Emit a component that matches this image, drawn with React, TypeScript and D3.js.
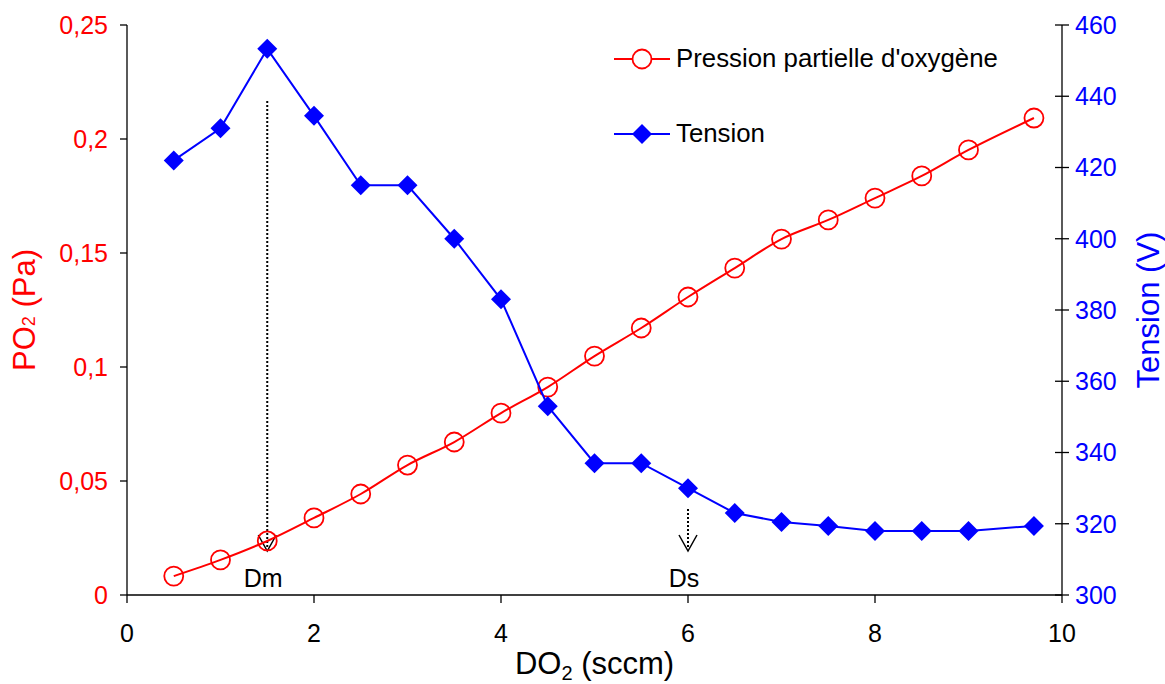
import React from "react";
import * as d3 from "d3";

const flows = [0.5, 1, 1.5, 2, 2.5, 3, 3.5, 4, 4.5, 5, 5.5, 6, 6.5, 7, 7.5, 8, 8.5, 9, 9.7];
const pressure = [0.0083, 0.0154, 0.0237, 0.0338, 0.0443, 0.057, 0.0671, 0.0798, 0.0912, 0.1048, 0.1171, 0.1307, 0.1434, 0.1561, 0.1645, 0.1741, 0.1838, 0.1952, 0.2092];
const tension = [422, 431, 453.3, 434.5, 415, 415, 400, 383, 353, 337, 337, 330, 323, 320.5, 319.4, 318, 318, 318, 319.4];
const xTicks = [0, 2, 4, 6, 8, 10];
const leftTicks = [0, 0.05, 0.1, 0.15, 0.2, 0.25];
const leftTickLabels = ["0", "0,05", "0,1", "0,15", "0,2", "0,25"];
const rightTicks = [300, 320, 340, 360, 380, 400, 420, 440, 460];
const markers = [
  { label: "Dm", x: 1.5, top: 101 },
  { label: "Ds", x: 6, top: 509 },
];
const legendItems = ["Pression partielle d'oxygène", "Tension"];

const W = 1165;
const H = 684;
const L = 127;
const R = 1062;
const T = 25;
const B = 595;
const FONT = "'Liberation Sans', Arial, sans-serif";
const FS = 25;
const TFS = 31;
const RED = "#ff0000";
const BLUE = "#0000ff";

export default function App() {
  const x = d3.scaleLinear().domain([0, 10]).range([L, R]);
  const yL = d3.scaleLinear().domain([0, 0.25]).range([B, T]);
  const yR = d3.scaleLinear().domain([300, 460]).range([B, T]);

  const redLine = d3
    .line<number>()
    .x((_, i) => x(flows[i]))
    .y((d) => yL(d))
    .curve(d3.curveCatmullRom.alpha(0.5))(pressure) as string;
  const blueLine = d3
    .line<number>()
    .x((_, i) => x(flows[i]))
    .y((d) => yR(d))(tension) as string;

  const diamond = (cx: number, cy: number, r = 10) =>
    `M${cx},${cy - r}L${cx + r},${cy}L${cx},${cy + r}L${cx - r},${cy}Z`;

  const arrowTip = 551;
  const midY = (T + B) / 2;

  return (
    <svg
      width={W}
      height={H}
      style={{ position: "absolute", left: 0, top: 0, background: "#fff" }}
      fontFamily={FONT}
    >
      {/* axes */}
      <line x1={L} y1={T} x2={L} y2={B} stroke="#000" strokeWidth={1.3} />
      <line x1={R} y1={T} x2={R} y2={B} stroke="#000" strokeWidth={1.3} />
      <line x1={L} y1={B} x2={R} y2={B} stroke="#000" strokeWidth={1.3} />
      {leftTicks.map((t, i) => (
        <g key={"l" + i}>
          <line x1={L - 7} x2={L} y1={yL(t)} y2={yL(t)} stroke="#000" strokeWidth={1.3} />
          <text x={L - 19} y={yL(t)} dy="0.35em" textAnchor="end" fill={RED} fontSize={FS}>
            {leftTickLabels[i]}
          </text>
        </g>
      ))}
      {rightTicks.map((t) => (
        <g key={"r" + t}>
          <line x1={R - 7} x2={R + 7} y1={yR(t)} y2={yR(t)} stroke="#000" strokeWidth={1.3} />
          <text x={R + 13} y={yR(t)} dy="0.35em" textAnchor="start" fill={BLUE} fontSize={FS}>
            {t}
          </text>
        </g>
      ))}
      {xTicks.map((t) => (
        <g key={"x" + t}>
          <line x1={x(t)} x2={x(t)} y1={B} y2={B + 8} stroke="#000" strokeWidth={1.3} />
          <text x={x(t)} y={B + 38} dy="0.35em" textAnchor="middle" fill="#000" fontSize={FS}>
            {t}
          </text>
        </g>
      ))}
      {/* axis titles */}
      <text
        transform={`translate(35,${midY}) rotate(-90)`}
        textAnchor="middle"
        fill={RED}
        fontSize={TFS}
      >
        PO<tspan fontSize={18}>2</tspan>
        <tspan> (Pa)</tspan>
      </text>
      <text
        transform={`translate(1159,${midY}) rotate(-90)`}
        textAnchor="middle"
        fill={BLUE}
        fontSize={TFS}
      >
        Tension (V)
      </text>
      <text x={(L + R) / 2} y={674} textAnchor="middle" fill="#000" fontSize={TFS}>
        DO<tspan fontSize={20} dy={6}>2</tspan>
        <tspan dy={-6}> (sccm)</tspan>
      </text>

      {/* arrows */}
      {markers.map((m) => (
        <g key={m.label}>
          <line
            x1={x(m.x)}
            x2={x(m.x)}
            y1={m.top}
            y2={arrowTip - 2}
            stroke="#000"
            strokeWidth={2}
            strokeDasharray="2,2"
          />
          <path
            d={`M${x(m.x) - 9},${arrowTip - 16}L${x(m.x)},${arrowTip}L${x(m.x) + 9},${arrowTip - 16}`}
            fill="none"
            stroke="#000"
            strokeWidth={1.5}
          />
          <text x={x(m.x) - 4} y={587} textAnchor="middle" fill="#000" fontSize={FS}>
            {m.label}
          </text>
        </g>
      ))}

      {/* series */}
      <path d={redLine} fill="none" stroke={RED} strokeWidth={2} />
      {pressure.map((p, i) => (
        <circle key={"c" + i} cx={x(flows[i])} cy={yL(p)} r={9.5} fill="none" stroke={RED} strokeWidth={1.8} />
      ))}
      <path d={blueLine} fill="none" stroke={BLUE} strokeWidth={2} />
      {tension.map((v, i) => (
        <path key={"d" + i} d={diamond(x(flows[i]), yR(v))} fill={BLUE} />
      ))}

      {/* legend */}
      <line x1={614} x2={670} y1={59} y2={59} stroke={RED} strokeWidth={2} />
      <circle cx={642} cy={59} r={9.5} fill="#fff" stroke={RED} strokeWidth={1.8} />
      <text x={676} y={67} fill="#000" fontSize={25.8}>
        {legendItems[0]}
      </text>
      <line x1={614} x2={670} y1={134} y2={134} stroke={BLUE} strokeWidth={2} />
      <path d={diamond(642, 134)} fill={BLUE} />
      <text x={676} y={142} fill="#000" fontSize={25.8}>
        {legendItems[1]}
      </text>
    </svg>
  );
}
